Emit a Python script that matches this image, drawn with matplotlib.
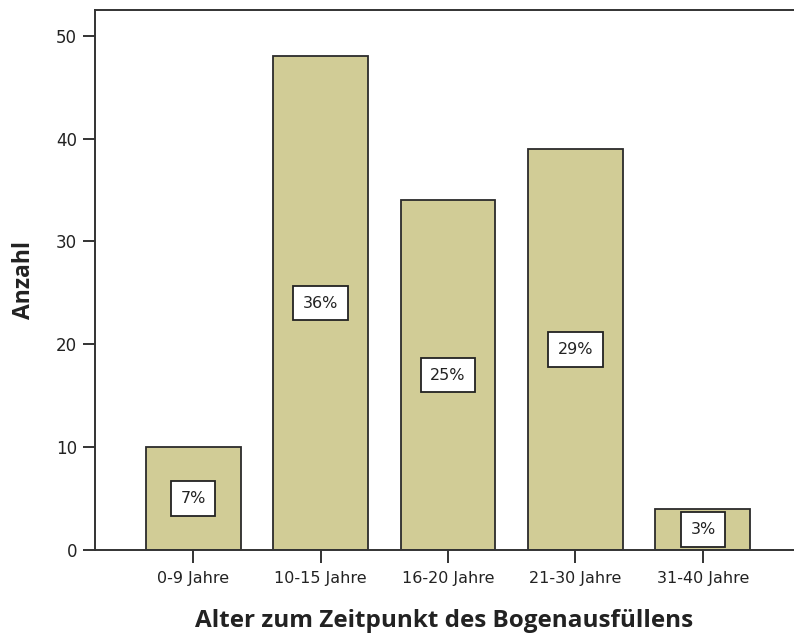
import matplotlib
matplotlib.use("Agg")
import matplotlib.pyplot as plt

categories = ["0-9 Jahre", "10-15 Jahre", "16-20 Jahre", "21-30 Jahre", "31-40 Jahre"]
counts = [10, 48, 34, 39, 4]
pct_labels = ["7%", "36%", "25%", "29%", "3%"]
y_ticks = [0, 10, 20, 30, 40, 50]

plt.rcParams['font.family'] = ['Open Sans', 'DejaVu Sans']

fig = plt.figure(figsize=(7.94, 6.37), dpi=100)
ax = fig.add_axes([95/794, 87/637, 1 - 95/794, 540/637])

x = list(range(len(categories)))
ax.bar(x, counts, width=0.745, color='#D1CC96', edgecolor='#2b2b2b', linewidth=1.3, zorder=2)

for xi, c, lab in zip(x, counts, pct_labels):
    ax.text(xi, c / 2, lab, ha='center', va='center', fontsize=11.5, color='#222222',
            family='DejaVu Sans',
            bbox=dict(boxstyle='square,pad=0.6', facecolor='white', edgecolor='#222222', linewidth=1.3),
            zorder=3)

ax.set_xlim(-0.769, 4.714)
ax.set_ylim(0, 52.5)
ax.set_xticks(x)
ax.set_xticklabels(categories, fontsize=11.5, family='DejaVu Sans')
ax.set_yticks(y_ticks)
ax.set_yticklabels([str(t) for t in y_ticks], fontsize=12, family='DejaVu Sans')

for s in ['left', 'top', 'bottom']:
    ax.spines[s].set_color('#333333')
    ax.spines[s].set_linewidth(1.4)
ax.spines['right'].set_visible(False)

ax.tick_params(axis='both', direction='out', length=9, width=1.4, color='#333333', labelcolor='#222222', pad=4)
ax.tick_params(axis='x', pad=6)

ax.set_ylabel('Anzahl', fontsize=16.5, fontweight='bold', color='#222222', labelpad=14)
ax.set_xlabel('Alter zum Zeitpunkt des Bogenausfüllens', fontsize=17.5, fontweight='bold', color='#222222', labelpad=17)

fig.savefig('out.png', dpi=100)
